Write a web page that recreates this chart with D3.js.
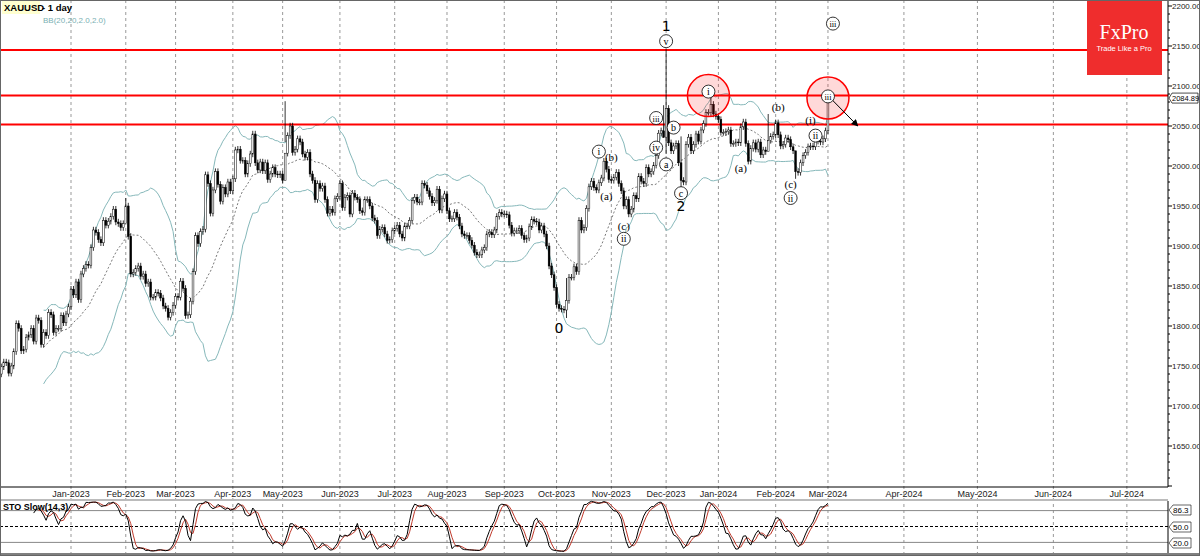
<!DOCTYPE html>
<html><head><meta charset="utf-8">
<script src="https://cdn.jsdelivr.net/npm/d3@7"></script>
<style>body{margin:0;background:#fff}svg{display:block;font-family:"DejaVu Sans",sans-serif}</style>
</head><body><svg id="c" width="1200" height="556"></svg>
<script>
// daily closes, one row per week (Mon..Fri), from 21 Nov 2022 to 1 Mar 2024
const closes = [
1738,1740,1749,1755,1754, 1741,1750,1768,1803,1797, 1769,1771,1786,1789,1797,
1781,1810,1807,1777,1792, 1788,1817,1814,1792,1797, 1797,1813,1804,1815,1824,
1846,1839,1855,1833,1865, 1872,1877,1876,1898,1920, 1917,1908,1904,1932,1926,
1931,1937,1946,1930,1928, 1923,1928,1950,1912,1865, 1867,1872,1875,1862,1865,
1853,1855,1836,1836,1842, 1841,1835,1825,1822,1811, 1817,1826,1837,1836,1856,
1847,1813,1814,1831,1868, 1913,1903,1918,1921,1989, 1978,1941,1970,1993,1977,
1956,1973,1965,1980,1969, 1984,2020,2021,2007,2007, 1990,2003,2015,2040,2004,
1995,2005,1994,2004,1983, 1990,1998,1990,1989,1990, 1982,2016,2038,2050,2017,
2021,2034,2030,2015,2011, 2017,1990,1982,1958,1978, 1972,1975,1958,1941,1946,
1942,1959,1962,1978,1948, 1961,1963,1940,1966,1961, 1958,1944,1942,1958,1958,
1950,1935,1932,1913,1921, 1923,1915,1907,1908,1919, 1922,1926,1915,1910,1925,
1925,1932,1957,1961,1955, 1955,1978,1976,1969,1962, 1954,1957,1971,1945,1959,
1965,1944,1934,1934,1942, 1936,1925,1915,1913,1913, 1907,1901,1892,1889,1889,
1895,1898,1915,1917,1914, 1920,1937,1942,1940,1940, 1939,1926,1916,1919,1919,
1922,1913,1908,1910,1924, 1933,1931,1930,1920,1925, 1915,1900,1875,1864,1848,
1827,1822,1821,1820,1832, 1861,1861,1874,1868,1932, 1920,1923,1947,1974,1981,
1973,1970,1979,1985,2006, 1996,1983,1982,1986,1992, 1978,1969,1950,1958,1940,
1946,1963,1959,1987,1981, 1978,1998,1990,1993,2001, 2013,2041,2044,2036,2072,
2029,2019,2025,2028,2004, 1982,1980,2027,2036,2019, 2027,2040,2031,2045,2053,
2067,2067,2077,2065,2062, 2058,2042,2042,2043,2045, 2028,2028,2030,2029,2049,
2055,2028,2006,2022,2029, 2021,2030,2014,2020,2018, 2032,2037,2039,2054,2039,
2025,2027,2035,2033,2024, 2019,1993,1992,2004,2013, 2017,2024,2025,2024,2035,
2031,2030,2034,2044,2083
];
// extremes (bar index -> [high, low])
const extremes = {52:[1960,1940],116:[2081,2030],229:[1860,1810],268:[2076,2035],269:[2146,2015],
  275:[2037,1973],287:[2088,2062],310:[2065,2030],321:[2002,1984],334:[2088,2040]};
const priceTicks = [2200,2150,2100,2050,2000,1950,1900,1850,1800,1750,1700,1650];
const months = ["Jan-2023","Feb-2023","Mar-2023","Apr-2023","May-2023","Jun-2023","Jul-2023","Aug-2023",
  "Sep-2023","Oct-2023","Nov-2023","Dec-2023","Jan-2024","Feb-2024","Mar-2024","Apr-2024","May-2024","Jun-2024","Jul-2024"];
const levels = [2145, 2088, 2052];
const stoLevels = [80, 50, 20];
const waves = [ // [bar, price, label, circled]
 [269,2174,"1",0],[269,2156,"v",1],[286,2093,"i",1],[314,2074,"(b)",0],[336,2178,"iii",1],[334,2087,"iii",1],
 [265,2060,"iii",1],[272,2048,"b",1],[265,2023,"iv",1],[269,2002,"a",1],[275,1966,"c",1],[275,1949,"2",0],
 [242,2018,"i",1],[247,2011,"(b)",0],[245,1962,"(a)",0],[252,1925,"(c)",0],[252,1909,"ii",1],
 [299,1997,"(a)",0],[327,2057,"(i)",0],[329,2038,"ii",1],[319,1977,"(c)",0],[319,1960,"ii",1],[226,1796,"0",0]
];

const n = closes.length;
const start = new Date(2022,10,21);
const dates = d3.timeDay.range(start, new Date(2024,2,2)).filter(d => d.getDay()%6 !== 0);
const bars = closes.map((c,i) => {
  const o = i ? closes[i-1] : 1736;
  const e = extremes[i];
  return {o, c, h: e ? e[0] : Math.max(o,c)+4, l: e ? e[1] : Math.min(o,c)-4};
});

const svg = d3.select('#c');
const W = 1168, bot = 487;
const x = d3.scaleLinear().domain([0, n-1]).range([-3.7, -3.7 + (n-1)*2.49]);
const y = d3.scaleLinear().domain([1600, 2200]).range([486, 6]);
const ys = d3.scaleLinear().domain([0, 100]).range([553, 500]);
const xLast = x(n-1);
const axisFont = '"Liberation Sans",sans-serif';

function monthX(i) {
  const d = new Date(2023, i, 1);
  const k = dates.findIndex(t => t >= d);
  if (k >= 0) return x(k);
  return xLast + d3.timeDay.count(dates[n-1], d) * 2.45;
}

// grid
const gx = months.map((m,i) => ({m, x: monthX(i)}));
svg.append('g').selectAll('line').data(gx).join('line')
  .attr('x1', d => d.x).attr('x2', d => d.x).attr('y1', 0).attr('y2', 553)
  .attr('stroke', '#999').attr('stroke-dasharray', '3,3');
svg.append('g').selectAll('text').data(gx).join('text')
  .attr('x', d => d.x).attr('y', 497).attr('text-anchor', 'middle').attr('font-family', axisFont)
  .attr('font-size', 9).attr('fill', '#222').text(d => d.m);

// bollinger
const bb = closes.map((c,i) => {
  if (i < 19) return null;
  const w = closes.slice(i-19, i+1), m = d3.mean(w), s = d3.deviation(w) * Math.sqrt(19/20);
  return {i, m, u: m + 2*s, d: m - 2*s};
}).filter(Boolean);
svg.append('defs').append('clipPath').attr('id','cm').append('rect')
  .attr('x',0).attr('y',0).attr('width',W).attr('height',bot);
const main = svg.append('g').attr('clip-path','url(#cm)');
['u','d'].forEach(k => main.append('path').datum(bb)
  .attr('d', d3.line().x(d => x(d.i)).y(d => y(d[k]))).attr('fill','none').attr('stroke','#86b8ba').attr('stroke-width',1));
main.append('path').datum(bb).attr('d', d3.line().x(d => x(d.i)).y(d => y(d.m)))
  .attr('fill','none').attr('stroke','#555').attr('stroke-dasharray','2,2').attr('stroke-width',0.8);

// levels
main.selectAll('.lv').data(levels).join('line').attr('x1',0).attr('x2',W)
  .attr('y1', d => y(d)).attr('y2', d => y(d)).attr('stroke','#f00').attr('stroke-width',2);

// candles
const cg = main.append('g');
cg.selectAll('line').data(bars).join('line')
  .attr('x1',(d,i)=>x(i)).attr('x2',(d,i)=>x(i)).attr('y1',d=>y(d.h)).attr('y2',d=>y(d.l))
  .attr('stroke','#000').attr('stroke-width',0.8);
cg.selectAll('rect').data(bars).join('rect')
  .attr('x',(d,i)=>x(i)-0.9).attr('width',1.8)
  .attr('y',d=>y(Math.max(d.o,d.c))).attr('height',d=>Math.max(0.8, Math.abs(y(d.o)-y(d.c))))
  .attr('fill',d=>d.c>=d.o?'#fff':'#000').attr('stroke','#000').attr('stroke-width',0.5);

// highlight circles and arrow
[[286,2088],[334,2085]].forEach(([i,p]) => main.append('circle').attr('cx',x(i)).attr('cy',y(p)).attr('r',21)
  .attr('fill','rgba(255,0,0,0.15)').attr('stroke','#f00').attr('stroke-width',1.5));
svg.append('defs').append('marker').attr('id','ar').attr('viewBox','0 0 10 10').attr('refX',9).attr('refY',5)
  .attr('markerWidth',7).attr('markerHeight',7).attr('orient','auto')
  .append('path').attr('d','M0,0L10,5L0,10z').attr('fill','#000');
main.append('line').attr('x1',x(334)).attr('y1',y(2088)).attr('x2',x(346)).attr('y2',y(2050))
  .attr('stroke','#000').attr('marker-end','url(#ar)');

// wave labels
const wg = main.append('g').attr('font-family','"Liberation Serif",serif');
waves.forEach(([i,p,t,c]) => {
  if (c) wg.append('circle').attr('cx',x(i)).attr('cy',y(p)).attr('r',6.5).attr('fill','#fff').attr('stroke','#000').attr('stroke-width',0.8);
  wg.append('text').attr('x',x(i)).attr('y',y(p)+(c?3.5:4)).attr('text-anchor','middle')
    .attr('font-size', c ? (t.length>2?8.5:10) : (/\d/.test(t)?14:11)).text(t)
    .attr('font-family', /\d/.test(t) ? 'DejaVu Sans' : null);
});

// FxPro badge
svg.append('rect').attr('x',1087).attr('y',0).attr('width',75).attr('height',75).attr('fill','#ef2d2d');
svg.append('text').attr('x',1124).attr('y',39).attr('text-anchor','middle').attr('fill','#fff')
  .attr('font-family','"Liberation Serif",serif').attr('font-size',20).text('FxPro');
svg.append('text').attr('x',1124).attr('y',51).attr('text-anchor','middle').attr('fill','#fff')
  .attr('font-family', axisFont).attr('font-size',7.5).text('Trade Like a Pro');

// right price axis
svg.append('rect').attr('x',W).attr('y',0).attr('width',32).attr('height',556).attr('fill','#fff');
svg.append('line').attr('x1',W).attr('x2',W).attr('y1',0).attr('y2',bot).attr('stroke','#000');
svg.append('g').selectAll('line').data(d3.range(1600,2205,10)).join('line')
  .attr('x1',W).attr('x2',d=>W+(d%50?2:4)).attr('y1',d=>y(d)).attr('y2',d=>y(d)).attr('stroke','#000');
svg.append('g').selectAll('text').data(priceTicks).join('text').attr('font-family', axisFont)
  .attr('x',W+4).attr('y',d=>y(d)+3).attr('font-size',8).attr('fill','#222').text(d=>d.toFixed(2));
svg.append('path').attr('d',`M${W+1},${y(2084.89)}l3,-5h26v10h-26z`).attr('fill','#fff').attr('stroke','#000').attr('stroke-width',0.7);
svg.append('text').attr('x',W+4).attr('y',y(2084.89)+3).attr('font-family', axisFont).attr('font-size',7.5).text('2084.89');

// frames
svg.append('line').attr('x1',0).attr('x2',W).attr('y1',bot).attr('y2',bot).attr('stroke','#000');
svg.append('rect').attr('x',0).attr('y',499).attr('width',W).attr('height',2).attr('fill','#bbb');

// stochastic slow 14,3,3
const raw = bars.map((b,i) => {
  if (i < 13) return null;
  const w = bars.slice(i-13,i+1), hh = d3.max(w,d=>d.h), ll = d3.min(w,d=>d.l);
  return [b.c-ll, hh-ll];
});
const K = raw.map((r,i) => {
  if (i < 15) return null;
  const w = raw.slice(i-2,i+1); return 100*d3.sum(w,d=>d[0])/d3.sum(w,d=>d[1]);
});
const D = K.map((k,i) => (i < 17) ? null : d3.mean(K.slice(i-2,i+1)));
const sg = svg.append('g');
sg.selectAll('line').data(stoLevels).join('line').attr('x1',0).attr('x2',W)
  .attr('y1',d=>ys(d)).attr('y2',d=>ys(d)).attr('stroke',d=>d===50?'#000':'#888')
  .attr('stroke-dasharray',d=>d===50?'3,2':null);
const sl = d3.line().defined(d=>d!=null).x((d,i)=>x(i)).y(d=>ys(d));
sg.append('path').datum(D).attr('d',sl).attr('fill','none').attr('stroke','#c0392b').attr('stroke-width',1);
sg.append('path').datum(K).attr('d',sl).attr('fill','none').attr('stroke','#000').attr('stroke-width',1);
svg.append('line').attr('x1',W).attr('x2',W).attr('y1',501).attr('y2',553).attr('stroke','#000');
[[86.3,510],[50,527],[20,543]].forEach(([v,yy]) => {
  svg.append('path').attr('d',`M${W+1},${yy}l4,-5h18v10h-18z`).attr('fill','#fff').attr('stroke','#000').attr('stroke-width',0.6);
  svg.append('text').attr('x',W+5).attr('y',yy+3).attr('font-family', axisFont).attr('font-size',8).text(v.toFixed(1));
});
svg.append('text').attr('x',3).attr('y',510).attr('font-family', axisFont).attr('font-size',9).attr('font-weight','bold').text('STO Slow(14,3)');
svg.append('line').attr('x1',0).attr('x2',1200).attr('y1',554).attr('y2',554).attr('stroke','#000');

// titles
svg.append('rect').attr('x',2).attr('y',1).attr('width',38).attr('height',13).attr('fill','#ffffd0');
svg.append('text').attr('x',4).attr('y',11).attr('font-family', axisFont).attr('font-size',9.5).attr('font-weight','bold').text('XAUUSD');
svg.append('text').attr('x',42).attr('y',11).attr('font-family', axisFont).attr('font-size',9.5).attr('font-weight','bold').text('- 1 day');
svg.append('text').attr('x',43).attr('y',23).attr('font-family', axisFont).attr('font-size',8).attr('fill','#7ab0b3').text('BB(20,20,2.0,2.0)');
svg.append('rect').attr('x',0.5).attr('y',0.5).attr('width',1199).attr('height',555).attr('fill','none').attr('stroke','#666');
</script></body></html>
